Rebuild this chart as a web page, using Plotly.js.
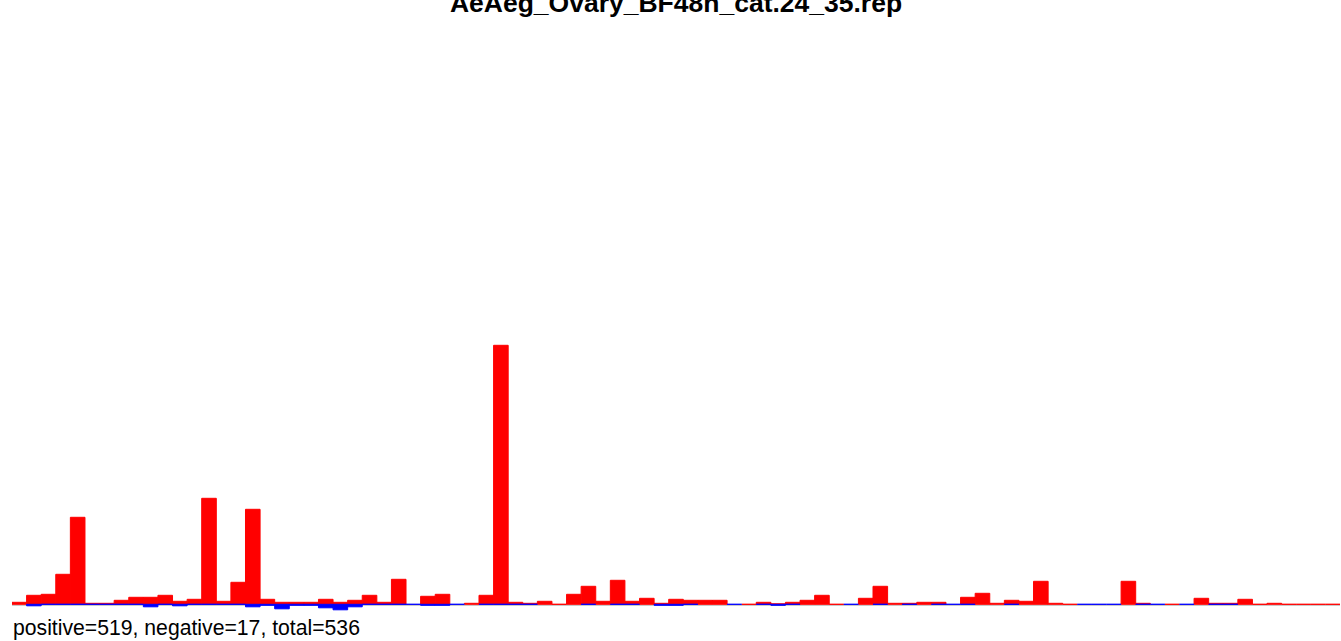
<!DOCTYPE html>
<html>
<head>
<meta charset="utf-8">
<script src="https://cdn.plot.ly/plotly-3.0.1.min.js"></script>
<style>html,body{margin:0;padding:0;background:#fff;}#chart{width:1341px;height:641px;}</style>
</head>
<body>
<div id="chart"></div>
<script>
// Chart values (bar heights, arbitrary units)
var bins = [];
for (var i = 1; i <= 91; i++) bins.push(i);

var positiveValues = [
  2, 9, 10, 30, 87, 1, 1, 4, 7, 7,
  9, 3, 5, 106, 3, 22, 95, 5, 2, 2,
  2, 5, 2, 4, 9, 2, 25, null, 8, 10,
  null, 1, 9, 259, 2, 1, 3, 0, 10, 18,
  3, 24, 3, 6, 1, 5, 4, 4, 4, null,
  0, 2, 0.5, 2, 4, 9, 0, null, 6, 18,
  1, 1, 2, 2, null, 7, 11, 1, 4, 3,
  23, 1, 0, null, null, null, 23, 1, null, 0,
  null, 6, 1, 1, 5, 0, 1, 0, 0, 0,
  0
];

var negativeValues = [
  null, -1.5, 0, 0, 0, 0, 0, 0, 0, -2.5,
  0, -1.5, 0, 0, 0, 0, -2.5, -1, -4.5, -1,
  -1, -3.5, -5.5, -2.5, 0, 0, 0, 0, -1, -1,
  0, null, 0, 0, 0, 0, null, null, null, 0,
  null, 0, 0, null, -1, -1, 0, null, null, 0,
  null, 0, -1, 0, null, null, null, 0, null, 0,
  null, 0, null, 0, 0, 0, null, null, 0, null,
  null, null, null, 0, 0, 0, null, 0, 0, null,
  0, null, 0, 0, null, null, null, null, null, null,
  null
];

var titleText = 'AeAeg_Ovary_BF48h_cat.24_35.rep';
var summaryText = 'positive=519, negative=17, total=536';

var traces = [
  {
    type: 'bar', x: bins, y: positiveValues,
    marker: {color: '#ff0000', line: {color: '#ff0000', width: 1}},
    hoverinfo: 'skip'
  },
  {
    type: 'bar', x: bins, y: negativeValues,
    marker: {color: '#0000ff', line: {color: '#0000ff', width: 1}},
    hoverinfo: 'skip'
  }
];

var layout = {
  width: 1341, height: 641,
  margin: {l: 11.7, r: 0.7, t: 30, b: 26, pad: 0},
  paper_bgcolor: '#ffffff', plot_bgcolor: '#ffffff',
  showlegend: false,
  barmode: 'overlay', bargap: 0,
  font: {family: 'Liberation Sans, Arial, sans-serif', color: '#000000'},
  title: {
    text: titleText,
    font: {family: 'Liberation Sans, Arial, sans-serif', size: 26.5, weight: 'bold', color: '#000000'},
    xref: 'paper', x: 0.5, xanchor: 'center',
    yref: 'container', y: 1 - 12 / 641, yanchor: 'bottom'
  },
  xaxis: {
    range: [0.5, 91.5], showgrid: false, zeroline: false, showline: false,
    showticklabels: false, ticks: '', fixedrange: true
  },
  yaxis: {
    range: [-10.7, 574.3], showgrid: false, zeroline: false, showline: false,
    showticklabels: false, ticks: '', fixedrange: true
  },
  shapes: [{
    type: 'line', xref: 'paper', x0: 0, x1: 1, yref: 'y', y0: -1, y1: -1,
    line: {color: '#c8c8c8', width: 1.2}, layer: 'below'
  }],
  annotations: [{
    text: summaryText, showarrow: false,
    xref: 'paper', x: 0, xanchor: 'left', xshift: -1,
    yref: 'paper', y: 0, yanchor: 'top', yshift: 1,
    font: {family: 'Liberation Sans, Arial, sans-serif', size: 21.2, color: '#000000'}
  }]
};

Plotly.newPlot('chart', traces, layout, {displayModeBar: false, staticPlot: true});
</script>
</body>
</html>
